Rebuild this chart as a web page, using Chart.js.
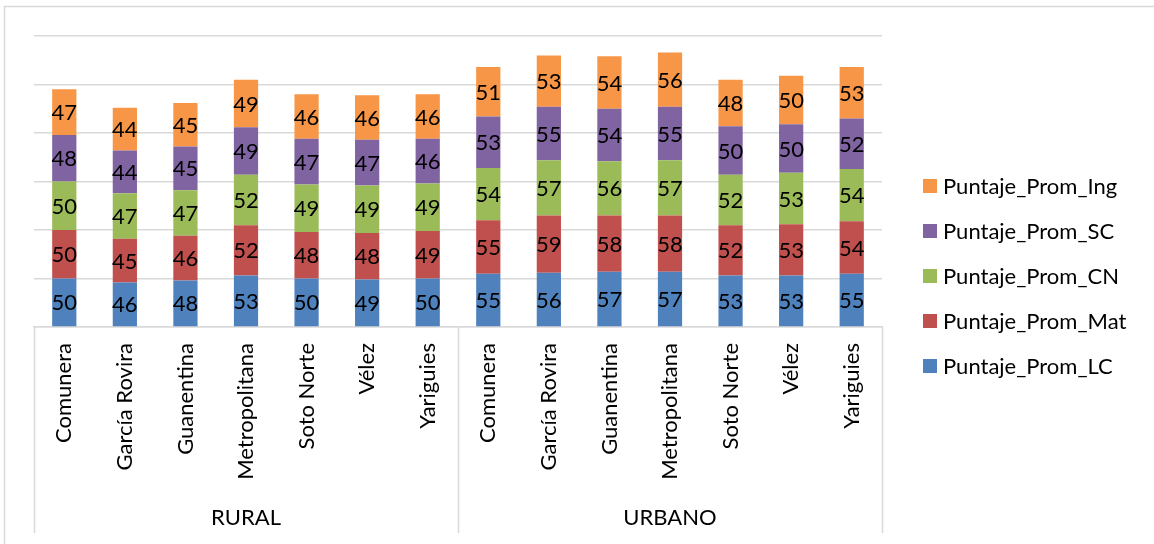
<!DOCTYPE html>
<html><head><meta charset="utf-8">
<script src="https://cdn.jsdelivr.net/npm/chart.js@4.4.0/dist/chart.umd.min.js"></script>
<style>html,body{margin:0;padding:0;background:#fff}canvas{display:block}</style>
</head><body>
<canvas id="c" width="1154" height="544"></canvas>
<script>
const regions = ["Comunera","García Rovira","Guanentina","Metropolitana","Soto Norte","Vélez","Yariguies"];
const groups = ["RURAL","URBANO"];
const categories = groups.flatMap(g => regions);
const seriesNames = ["Puntaje_Prom_LC","Puntaje_Prom_Mat","Puntaje_Prom_CN","Puntaje_Prom_SC","Puntaje_Prom_Ing"];
const seriesColors = ["#4F81BD","#C0504D","#9BBB59","#8064A2","#F79646"];
const lc  = [50,46,48,53,50,49,50, 55,56,57,57,53,53,55];
const mat = [50,45,46,52,48,48,49, 55,59,58,58,52,53,54];
const cn  = [50,47,47,52,49,49,49, 54,57,56,57,52,53,54];
const sc  = [48,44,45,49,47,47,46, 53,55,54,55,50,50,52];
const ing = [47,44,45,49,46,46,46, 51,53,54,56,48,50,53];
const seriesValues = [lc, mat, cn, sc, ing];
const yTicks = [0,50,100,150,200,250,300];

const FONT = 'Lato, "Open Sans", sans-serif';
const FS = 22;
const GRID = '#d9d9d9';

const decor = {
  id: 'decor',
  beforeDraw(chart) {
    const ctx = chart.ctx;
    ctx.save();
    ctx.fillStyle = '#fff';
    ctx.fillRect(0, 0, chart.width, chart.height);
    ctx.strokeStyle = GRID;
    ctx.lineWidth = 1.5;
    ctx.strokeRect(4.5, 6.5, chart.width + 20, chart.height + 20);
    ctx.restore();
  },
  afterDatasetsDraw(chart) {
    const ctx = chart.ctx;
    ctx.save();
    ctx.font = FS + 'px ' + FONT;
    ctx.fillStyle = '#000';
    ctx.textAlign = 'center';
    ctx.textBaseline = 'middle';
    chart.data.datasets.forEach((ds, i) => {
      const meta = chart.getDatasetMeta(i);
      meta.data.forEach((el, j) => {
        ctx.fillText(String(ds.data[j]), el.x, (el.y + el.base) / 2 + 1);
      });
    });
    ctx.restore();
  },
  afterDraw(chart) {
    const ctx = chart.ctx;
    const x = chart.scales.x;
    const area = chart.chartArea;
    const n = regions.length;
    const bounds = [area.left];
    for (let g = 1; g < groups.length; g++) {
      bounds.push((x.getPixelForValue(g * n - 1) + x.getPixelForValue(g * n)) / 2);
    }
    bounds.push(area.right);
    ctx.save();
    ctx.strokeStyle = GRID;
    ctx.lineWidth = 1.5;
    bounds.forEach(b => {
      ctx.beginPath();
      ctx.moveTo(Math.round(b) + 0.5, area.bottom);
      ctx.lineTo(Math.round(b) + 0.5, 533);
      ctx.stroke();
    });
    ctx.font = FS + 'px ' + FONT;
    ctx.fillStyle = '#000';
    ctx.textAlign = 'center';
    ctx.textBaseline = 'middle';
    groups.forEach((g, i) => {
      ctx.fillText(g, (bounds[i] + bounds[i + 1]) / 2, 518);
    });
    // legend (reversed order, like the reference)
    const items = chart.data.datasets.map((d, i) => ({label: d.label, color: d.backgroundColor})).reverse();
    ctx.textAlign = 'left';
    items.forEach((it, i) => {
      const cy = 186 + i * 45;
      ctx.fillStyle = it.color;
      ctx.fillRect(923, cy - 7, 14, 14);
      ctx.fillStyle = '#000';
      ctx.fillText(it.label, 943, cy + 1);
    });
    ctx.restore();
  }
};

new Chart(document.getElementById('c'), {
  type: 'bar',
  data: {
    labels: categories,
    datasets: seriesNames.map((name, i) => ({
      label: name,
      data: seriesValues[i],
      backgroundColor: seriesColors[i],
      borderWidth: 0,
      categoryPercentage: 1,
      barPercentage: 0.4
    }))
  },
  options: {
    responsive: false,
    animation: false,
    layout: {padding: {left: 34, top: 36, right: 272, bottom: 0}},
    plugins: {legend: {display: false}, tooltip: {enabled: false}},
    scales: {
      x: {
        stacked: true,
        grid: {display: false, drawTicks: false},
        border: {display: true, color: GRID, width: 1.5},
        ticks: {
          autoSkip: false,
          minRotation: 90,
          maxRotation: 90,
          padding: 16,
          color: '#000',
          font: {family: FONT, size: FS}
        },
        afterFit(s) { s.height = 217; }
      },
      y: {
        stacked: true,
        min: yTicks[0],
        max: yTicks[yTicks.length - 1],
        afterBuildTicks(s) { s.ticks = yTicks.map(v => ({value: v})); },
        grid: {color: GRID, lineWidth: 1.5, drawTicks: false},
        border: {display: false},
        ticks: {display: false},
        afterFit(s) { s.width = 0; }
      }
    }
  },
  plugins: [decor]
});
</script>
</body></html>
